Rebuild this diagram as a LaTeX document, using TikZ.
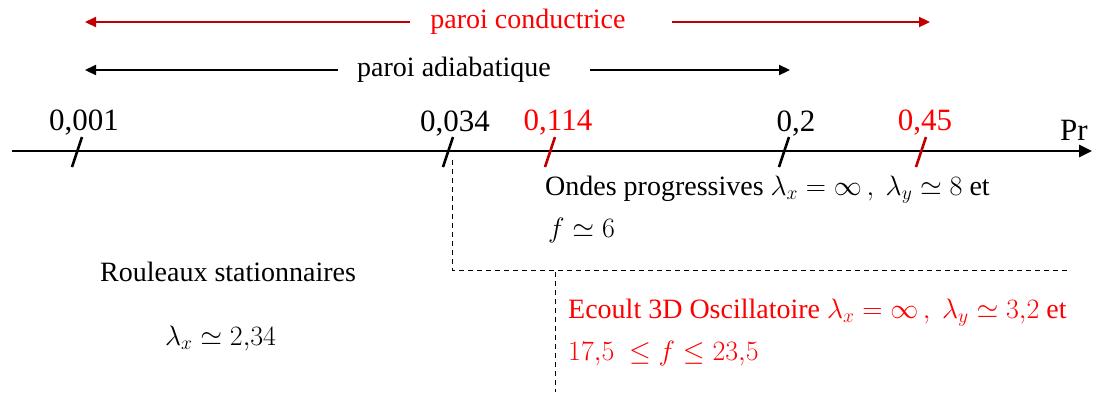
\RequirePackage{fix-cm}
\documentclass[tikz,border=0pt]{standalone}
\usepackage{fontspec}
\setmainfont{Liberation Serif}
\usetikzlibrary{arrows.meta}
\definecolor{dred}{RGB}{192,0,0}
\definecolor{bred}{RGB}{255,0,0}
\begin{document}
\begin{tikzpicture}[x=1pt,y=-1pt,
  txt/.style={font=\fontsize{28}{34}\selectfont, inner sep=0pt, anchor=west},
  lab/.style={font=\fontsize{31}{36}\selectfont, inner sep=0pt},
  tick/.style={line width=2.6pt},
  arr/.style={line width=2.2pt, -{Triangle[length=11pt,width=10pt]}},
  dashln/.style={line width=1pt, dash pattern=on 5pt off 4pt}]
\useasboundingbox (0,0) rectangle (1097,392);
% top arrows
\node[txt, text=bred, anchor=center] (pc) at (528,22) {paroi conductrice};
\coordinate (pcl) at (85,22); \coordinate (pcl2) at (410,22);
\coordinate (pcr) at (930,22); \coordinate (pcr2) at (672,22);
\draw[arr, dred] (pcl2) -- (pcl);
\draw[arr, dred] (pcr2) -- (pcr);
\node[txt, anchor=center] (pa) at (454,70) {paroi adiabatique};
\coordinate (pal) at (85,70); \coordinate (pal2) at (338,70);
\coordinate (par) at (790,70); \coordinate (par2) at (590,70);
\draw[arr] (pal2) -- (pal);
\draw[arr] (par2) -- (par);
% axis
\coordinate (a0) at (12,151); \coordinate (a1) at (1092,151);
\draw[line width=2.6pt, -{Triangle[length=13pt,width=12pt]}] (a0) -- (a1);
\node[lab, anchor=center] (pr) at (1074,130) {Pr};
% ticks
\foreach \x/\c/\n in {77/black/t1, 448/black/t2, 550/dred/t3, 784/black/t4, 921/dred/t5}{
  \coordinate (\n a) at (\x-5,167); \coordinate (\n b) at (\x+5,137);
  \draw[tick, \c] (\n a) -- (\n b);
}
\node[lab, anchor=center] (l1) at (84,123) {0,001};
\node[lab, anchor=center] (l2) at (455,124) {0,034};
\node[lab, anchor=center, text=bred] (l3) at (558,123) {0,114};
\node[lab, anchor=center] (l4) at (796,124) {0,2};
\node[lab, anchor=center, text=bred] (l5) at (925,123) {0,45};
% dashed
\coordinate (d0) at (452,160); \coordinate (d1) at (452,270); \coordinate (d2) at (1070,270);
\draw[dashln] (d0) -- (d1) -- (d2);
\coordinate (e0) at (555,272); \coordinate (e1) at (555,392);
\draw[dashln] (e0) -- (e1);
% texts
\node[txt] (op) at (545,190) {Ondes progressives $\lambda_x=\infty\,,\ \lambda_y\simeq 8$ et};
\node[txt] (op2) at (548,230) {$f\simeq 6$};
\node[txt] (rs) at (100,272) {Rouleaux stationnaires};
\node[txt] (lx) at (165,338) {$\lambda_x\simeq 2{,}34$};
\node[txt, text=bred] (ec) at (568,313) {Ecoult 3D Oscillatoire $\lambda_x=\infty\,,\ \lambda_y\simeq 3{,}2$ et};
\node[txt, text=bred] (ec2) at (568,353) {$17{,}5\ \leq f\leq 23{,}5$};
\end{tikzpicture}
\end{document}
